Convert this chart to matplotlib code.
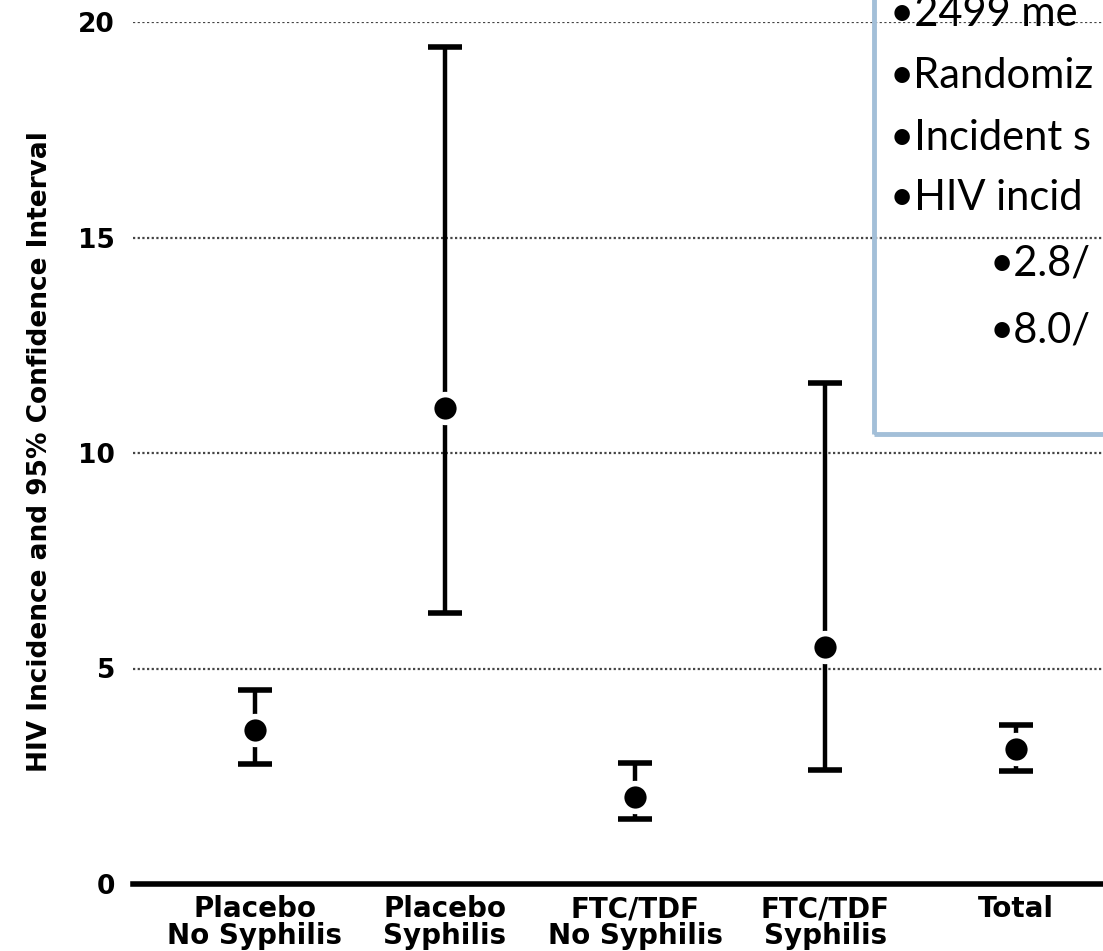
import matplotlib.pyplot as plt
from matplotlib.patches import Rectangle

# HIV incidence by arm and incident syphilis, with 95% CI
groups = ["Placebo\nNo Syphilis", "Placebo\nSyphilis", "FTC/TDF\nNo Syphilis",
          "FTC/TDF\nSyphilis", "Total"]
incidence = [3.57, 11.04, 2.02, 5.50, 3.13]
ci_low = [2.78, 6.29, 1.51, 2.64, 2.62]
ci_high = [4.50, 19.42, 2.81, 11.62, 3.69]

notes = ["\u20222499 me", "\u2022Randomiz", "\u2022Incident s", "\u2022HIV incid"]
sub_notes = ["\u20222.8/", "\u20228.0/"]

fig = plt.figure(figsize=(11.03, 9.51), dpi=100)
ax = fig.add_axes([133 / 1103, 67 / 951, 1 - 133 / 1103, 862 / 951])

x = list(range(len(groups)))
yerr = [[m - lo for m, lo in zip(incidence, ci_low)],
        [hi - m for m, hi in zip(incidence, ci_high)]]
ax.errorbar(x, incidence, yerr=yerr, fmt="o", color="black", ms=20,
            mfc="black", mec="white", mew=4, elinewidth=3.2,
            capsize=12.5, capthick=3.4, zorder=3)

ax.set_xlim(-0.64, 4.46)
ax.set_ylim(0, 20)
ax.set_yticks([0, 5, 10, 15, 20])
ax.yaxis.grid(True, linestyle=(0, (1, 1.1)), color="#444444", linewidth=1.6)
ax.set_axisbelow(True)
for side in ["top", "right", "left"]:
    ax.spines[side].set_visible(False)
ax.spines["bottom"].set_linewidth(4)
ax.spines["bottom"].set_zorder(4)
ax.tick_params(axis="both", length=0)
ax.tick_params(axis="y", pad=13)
ax.tick_params(axis="x", pad=8)

ax.set_xticks(x)
ax.set_xticklabels(groups, fontfamily="DejaVu Sans", fontweight="bold",
                   fontsize=20, linespacing=0.95)
for lab in ax.get_yticklabels():
    lab.set_fontfamily("DejaVu Sans")
    lab.set_fontweight("bold")
    lab.set_fontsize(19)

fig.text(40 / 1103, 1 - 452 / 951, "HIV Incidence and 95% Confidence Interval",
         rotation=90, ha="center", va="center", family="DejaVu Sans",
         fontweight="bold", fontsize=19)

# annotation box in the top right corner
box = Rectangle((874 / 1103, 1 - 434 / 951), 0.5, 0.6,
                transform=fig.transFigure, fill=False,
                edgecolor="#a3bfd8", linewidth=3.5, zorder=5)
fig.patches.append(box)

for txt, yy in zip(notes, [14, 76, 138, 198]):
    fig.text(890 / 1103, 1 - yy / 951, txt, ha="left", va="center",
             family=["Lato", "DejaVu Sans"], fontsize=30)
for txt, yy in zip(sub_notes, [264, 330]):
    fig.text(990 / 1103, 1 - yy / 951, txt, ha="left", va="center",
             family=["Lato", "DejaVu Sans"], fontsize=30)

fig.savefig("out.png", dpi=100)
